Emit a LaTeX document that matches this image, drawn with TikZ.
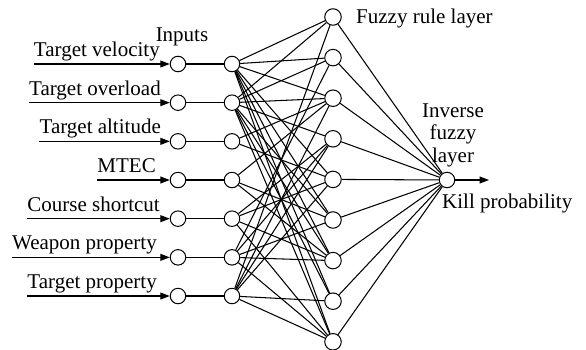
\documentclass[tikz,border=0pt]{standalone}
\usepackage{fontspec}
\setmainfont{Liberation Serif}
\usetikzlibrary{arrows.meta}
\begin{document}
\begin{tikzpicture}[x=1pt,y=-1pt,
  neuron/.style={circle,draw,line width=1pt,minimum size=15.5pt,inner sep=0pt,fill=white},
  rulenode/.style={neuron,minimum size=16.5pt},
  lbl/.style={font=\fontsize{21}{22.5}\selectfont,inner sep=0pt},
  link/.style={line width=1.05pt},
  feed/.style={line width=1.05pt,-{Triangle[length=9.5pt,width=7pt]}}]
\useasboundingbox (0,0) rectangle (586,350);

% input layer and second layer
\foreach \i in {1,...,7}{
  \node[neuron] (in\i) at (178,{64+38.67*(\i-1)}) {};
  \node[neuron] (h\i)  at (232,{64+38.67*(\i-1)}) {};
  \draw[link] (in\i) -- (h\i);
}
% fuzzy rule layer
\foreach \j in {1,...,9}{
  \node[rulenode] (f\j) at (333,{17+40.6*(\j-1)}) {};
}
% output
\node[neuron] (out) at (447,180) {};
\coordinate (outend) at (489,180);
\draw[feed] (out) -- (outend);

% input labels and arrows
\foreach \t/\xe [count=\i] in {Target velocity/160,Target overload/161,Target altitude/161,MTEC/156,Course shortcut/160,Weapon property/157,Target property/157}{
  \node[lbl,anchor=base east] (t\i) at (\xe,{64+38.67*(\i-1)-7.5}) {\t};
  \draw[feed] (t\i.west |- in\i) -- (in\i);
}

% connections second layer -> fuzzy rule layer
\foreach \i/\list in {1/{1,2,3,5,6,7,8,9},2/{1,2,3,4,6,7,8,9},3/{3,5},4/{3,6,7},5/{4,5,7,9},6/{2,4,6,7,9},7/{1,3,4,5,8,9}}{
  \foreach \j in \list{
    \draw[link] (h\i) -- (f\j);
  }
}
% fuzzy rule layer -> output
\foreach \j in {1,...,9}{
  \draw[link] (f\j) -- (out);
}

% titles
\node[lbl] (inputs) at (182,37) {Inputs};
\node[lbl,anchor=west] (frl) at (356,18) {Fuzzy rule layer};
\node[lbl,align=center] (ifl) at (453,135) {Inverse\\fuzzy\\layer};
\node[lbl,anchor=west] (kp) at (442,203) {Kill probability};
\end{tikzpicture}
\end{document}
